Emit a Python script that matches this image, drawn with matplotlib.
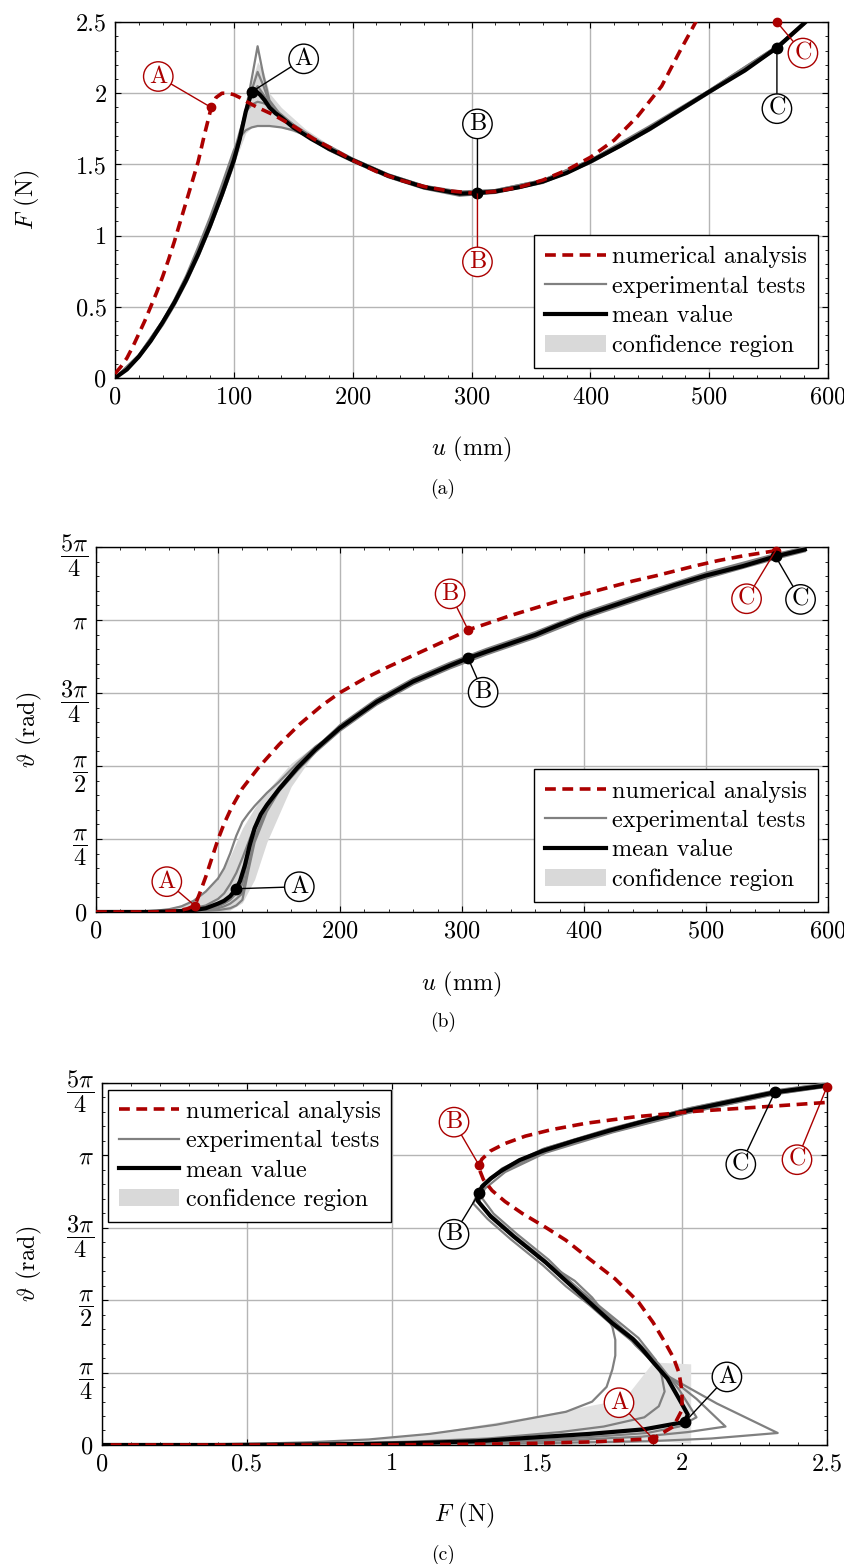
import numpy as np
import matplotlib.pyplot as plt
from matplotlib.ticker import MultipleLocator
from matplotlib.lines import Line2D
from matplotlib.patches import Patch

plt.rcParams['font.family'] = 'serif'
plt.rcParams['font.serif'] = ['cmr10']
plt.rcParams['mathtext.fontset'] = 'cm'
plt.rcParams['axes.formatter.use_mathtext'] = True
plt.rcParams['font.size'] = 17.5

RED = '#ab0000'
GRAY = '#808080'
FILL = '#d9d9d9'
FS = 17.5

# numerical analysis (parameter u in mm)
u_num = [0, 5, 10, 15, 20, 25, 30, 35, 40, 45, 50, 55, 60, 65, 70, 75, 81, 85, 90, 95, 100, 105, 111, 120, 133,
         150, 167, 185, 200, 220, 240, 260, 280, 300, 305, 320, 340, 360, 380, 400, 420, 440, 460, 475, 490,
         510, 530, 557]
F_num = [0.03, 0.08, 0.14, 0.22, 0.31, 0.40, 0.5, 0.6, 0.71, 0.83, 0.96, 1.1, 1.24, 1.38, 1.52, 1.7, 1.9, 1.97,
         2.0, 2.0, 1.99, 1.97, 1.94, 1.9, 1.85, 1.77, 1.68, 1.6, 1.53, 1.45, 1.39, 1.345, 1.315, 1.30, 1.30, 1.31,
         1.34, 1.39, 1.46, 1.55, 1.67, 1.84, 2.05, 2.29, 2.52, 2.9, 3.3, 3.9]
th_num = [0, 0, 0, 0, 0, 0, 0, 0, 0, 0, 0.002, 0.004, 0.007, 0.012, 0.02, 0.035, 0.068, 0.2, 0.38, 0.58, 0.78,
          0.95, 1.12, 1.33, 1.55, 1.8, 2.02, 2.22, 2.36, 2.51, 2.64, 2.76, 2.88, 3.0, 3.035, 3.1, 3.19, 3.27,
          3.35, 3.42, 3.49, 3.56, 3.62, 3.67, 3.72, 3.78, 3.83, 3.886]
keys_num = {'A': 81, 'B': 305, 'C': 557}

# mean value
u_mean = [0, 10, 20, 30, 40, 50, 60, 70, 80, 90, 100, 105, 110, 115, 118, 122, 126, 130, 135, 140, 150, 165,
          180, 200, 230, 260, 290, 305, 320, 340, 360, 380, 400, 425, 450, 475, 500, 530, 557, 581]
F_mean = [0, 0.06, 0.15, 0.26, 0.39, 0.53, 0.69, 0.87, 1.07, 1.29, 1.53, 1.68, 1.87, 2.01, 2.02, 1.99, 1.95,
          1.9, 1.86, 1.83, 1.76, 1.68, 1.61, 1.53, 1.42, 1.34, 1.295, 1.30, 1.31, 1.34, 1.38, 1.44, 1.52, 1.63,
          1.75, 1.88, 2.01, 2.16, 2.32, 2.5]
th_mean = [0, 0, 0, 0, 0, 0.002, 0.005, 0.01, 0.02, 0.04, 0.09, 0.12, 0.17, 0.25, 0.33, 0.5, 0.72, 0.9, 1.05,
           1.15, 1.32, 1.55, 1.75, 1.98, 2.26, 2.48, 2.65, 2.73, 2.8, 2.89, 2.98, 3.09, 3.19, 3.3, 3.41, 3.52,
           3.62, 3.72, 3.825, 3.9]
keys_mean = {'A': 115, 'B': 305, 'C': 557}

# experimental tests
u_exp = [0, 20, 40, 50, 60, 70, 80, 90, 100, 105, 110, 115, 120, 125, 130, 140, 150, 165, 180, 200,
         230, 260, 290, 320, 360, 400, 450, 500, 557, 581]
F_exp1 = [0, 0.15, 0.39, 0.53, 0.69, 0.87, 1.07, 1.29, 1.52, 1.68, 1.88, 2.1, 2.33, 2.12, 1.95, 1.84, 1.78, 1.7,
          1.62, 1.54, 1.43, 1.35, 1.31, 1.32, 1.39, 1.53, 1.77, 2.02, 2.33, 2.5]
th_exp1 = [0, 0, 0, 0, 0, 0.002, 0.005, 0.01, 0.02, 0.03, 0.04, 0.07, 0.13, 0.45, 0.75, 1.08, 1.3, 1.54, 1.76,
           2.01, 2.29, 2.51, 2.68, 2.83, 3.01, 3.22, 3.44, 3.65, 3.85, 3.92]
F_exp2 = [0, 0.14, 0.37, 0.51, 0.67, 0.85, 1.05, 1.27, 1.5, 1.66, 1.86, 2.02, 2.15, 2.05, 1.93, 1.83, 1.76,
          1.68, 1.6, 1.52, 1.41, 1.33, 1.28, 1.3, 1.37, 1.51, 1.74, 2.0, 2.31, 2.49]
th_exp2 = [0, 0, 0, 0, 0.002, 0.005, 0.01, 0.02, 0.04, 0.06, 0.09, 0.14, 0.2, 0.5, 0.8, 1.12, 1.3, 1.52, 1.72,
           1.95, 2.23, 2.45, 2.62, 2.77, 2.95, 3.16, 3.38, 3.59, 3.8, 3.88]
F_exp3 = [0, 0.15, 0.38, 0.52, 0.69, 0.88, 1.08, 1.3, 1.54, 1.7, 1.88, 1.99, 2.05, 1.99, 1.92, 1.84, 1.77, 1.69,
          1.61, 1.53, 1.42, 1.34, 1.29, 1.31, 1.38, 1.52, 1.75, 2.01, 2.32, 2.5]
th_exp3 = [0, 0, 0, 0, 0.003, 0.007, 0.015, 0.03, 0.06, 0.09, 0.13, 0.2, 0.3, 0.6, 0.88, 1.14, 1.33, 1.56, 1.76,
           1.99, 2.27, 2.49, 2.66, 2.81, 2.99, 3.2, 3.42, 3.63, 3.835, 3.91]
F_exp4 = [0, 0.16, 0.4, 0.54, 0.71, 0.9, 1.1, 1.33, 1.58, 1.73, 1.87, 1.92, 1.94, 1.93, 1.91, 1.85, 1.78, 1.69,
          1.61, 1.53, 1.42, 1.34, 1.29, 1.31, 1.38, 1.52, 1.75, 2.01, 2.32, 2.5]
th_exp4 = [0, 0, 0.002, 0.005, 0.01, 0.02, 0.04, 0.07, 0.14, 0.2, 0.3, 0.42, 0.58, 0.75, 0.92, 1.16, 1.34,
           1.57, 1.77, 2.0, 2.28, 2.5, 2.67, 2.82, 3.0, 3.21, 3.43, 3.64, 3.84, 3.92]
F_exp5 = [0, 0.16, 0.4, 0.55, 0.72, 0.92, 1.13, 1.36, 1.6, 1.69, 1.74, 1.76, 1.77, 1.77, 1.77, 1.76, 1.74, 1.69,
          1.63, 1.54, 1.43, 1.35, 1.30, 1.32, 1.39, 1.53, 1.76, 2.02, 2.33, 2.5]
th_exp5 = [0, 0.002, 0.008, 0.015, 0.03, 0.06, 0.12, 0.22, 0.36, 0.47, 0.63, 0.82, 0.97, 1.06, 1.14, 1.28, 1.4,
           1.6, 1.78, 1.96, 2.24, 2.46, 2.63, 2.78, 2.96, 3.17, 3.39, 3.6, 3.81, 3.89]

F_exps = [F_exp1, F_exp2, F_exp3, F_exp4, F_exp5]
th_exps = [th_exp1, th_exp2, th_exp3, th_exp4, th_exp5]

# confidence regions
conf_u_a = [90, 100, 110, 115, 120, 125, 130, 140, 160, 180, 200, 230]
conf_lo_a = [1.27, 1.5, 1.72, 1.76, 1.78, 1.78, 1.78, 1.76, 1.7, 1.6, 1.52, 1.41]
conf_hi_a = [1.32, 1.58, 1.9, 2.08, 2.22, 2.15, 2.0, 1.9, 1.75, 1.64, 1.55, 1.43]

conf_u_b = [40, 60, 80, 100, 110, 120, 130, 140, 160, 180, 200, 230]
conf_lo_b = [0, 0, 0, 0, 0.02, 0.1, 0.35, 0.75, 1.35, 1.73, 1.97, 2.25]
conf_hi_b = [0.01, 0.04, 0.12, 0.35, 0.6, 0.9, 1.12, 1.3, 1.6, 1.8, 2.0, 2.28]

conf_F_c = [0.5, 1.0, 1.17, 1.52, 1.8, 1.9, 2.03]
conf_lo_c = [0, 0, 0, 0, 0.02, 0.05, 0.02]
conf_hi_c = [0.01, 0.08, 0.15, 0.33, 0.5, 0.9, 0.88]

pi_ticks = [0, np.pi / 4, np.pi / 2, 3 * np.pi / 4, np.pi, 5 * np.pi / 4]
pi_labels = ['$0$', r'$\dfrac{\pi}{4}$', r'$\dfrac{\pi}{2}$', r'$\dfrac{3\pi}{4}$', r'$\pi$', r'$\dfrac{5\pi}{4}$']

# label offsets in pixels (circle centre relative to the point)
offs_a = {('num', 'A'): (-53, 31), ('mean', 'A'): (52, 33), ('mean', 'B'): (0, 69),
          ('num', 'B'): (0, -69), ('mean', 'C'): (0, -61), ('num', 'C'): (26, -31)}
offs_b = {('num', 'A'): (-28, 24), ('mean', 'A'): (63, 2), ('num', 'B'): (-18, 36),
          ('mean', 'B'): (15, -34), ('num', 'C'): (-29, -48), ('mean', 'C'): (25, -43)}
offs_c = {('mean', 'A'): (42, 45), ('num', 'A'): (-34, 36), ('num', 'B'): (-25, 43),
          ('mean', 'B'): (-25, -41), ('mean', 'C'): (-34, -72), ('num', 'C'): (-30, -73)}


def style_axes(ax):
    ax.grid(True, which='major', color='#b5b5b5', lw=1.0)
    ax.set_axisbelow(True)
    ax.tick_params(which='both', direction='in', top=True, right=True, labelsize=FS)
    ax.tick_params(which='major', length=4, pad=6)
    ax.tick_params(which='minor', length=2.5)
    for s in ax.spines.values():
        s.set_linewidth(1.0)


def add_legend(ax, **kw):
    handles = [Line2D([], [], color=RED, lw=2.6, ls=(0, (3, 1.8))),
               Line2D([], [], color=GRAY, lw=1.6),
               Line2D([], [], color='black', lw=3.0),
               Patch(facecolor=FILL, edgecolor='none')]
    labels = ['numerical analysis', 'experimental tests', 'mean value', 'confidence region']
    leg = ax.legend(handles, labels, fancybox=False, edgecolor='black', framealpha=1,
                    handlelength=2.5, handletextpad=0.25, labelspacing=0.3, borderpad=0.45,
                    borderaxespad=0, fontsize=FS, **kw)
    leg.get_frame().set_linewidth(1.0)


def draw_panel(ax, xs_num, ys_num, xs_mean, ys_mean, xs_exps, ys_exps, offs):
    for xe, ye in zip(xs_exps, ys_exps):
        ax.plot(xe, ye, color=GRAY, lw=1.6, zorder=3)
    ax.plot(xs_mean, ys_mean, color='black', lw=3.0, zorder=4)
    ax.plot(xs_num, ys_num, color=RED, lw=2.6, ls=(0, (3, 1.8)), zorder=5)
    xlim, ylim = ax.get_xlim(), ax.get_ylim()
    for kind, xs, ys, u, keys, col, ms in [('num', xs_num, ys_num, u_num, keys_num, RED, 6),
                                           ('mean', xs_mean, ys_mean, u_mean, keys_mean, 'black', 7.5)]:
        for letter, uk in keys.items():
            i = u.index(uk)
            px = min(max(xs[i], xlim[0]), xlim[1])
            py = min(max(ys[i], ylim[0]), ylim[1])
            ax.plot(px, py, 'o', color=col, ms=ms, zorder=6, clip_on=False)
            ax.annotate(letter, xy=(px, py), xytext=offs[(kind, letter)], textcoords='offset pixels',
                        ha='center', va='center', color=col, fontsize=FS, zorder=7,
                        bbox=dict(boxstyle='circle,pad=0.15', fc='white', ec=col, lw=1.0),
                        arrowprops=dict(arrowstyle='-', color=col, lw=1.0, shrinkA=0, shrinkB=0))


fig = plt.figure(figsize=(8.45, 15.64), dpi=100)

# (a) F vs u
ax1 = fig.add_axes([0.1361, 0.7583, 0.8438, 0.2276])
ax1.set_xlim(0, 600)
ax1.set_ylim(0, 2.5)
ax1.xaxis.set_major_locator(MultipleLocator(100))
ax1.xaxis.set_minor_locator(MultipleLocator(20))
ax1.set_yticks([0, 0.5, 1, 1.5, 2, 2.5])
ax1.set_yticklabels(['0', '0.5', '1', '1.5', '2', '2.5'])
ax1.yaxis.set_minor_locator(MultipleLocator(0.1))
style_axes(ax1)
ax1.fill_between(conf_u_a, conf_lo_a, conf_hi_a, color=FILL, lw=0, zorder=2)
draw_panel(ax1, u_num, F_num, u_mean, F_mean, [u_exp] * 5, F_exps, offs_a)
ax1.set_xlabel('$u$ (mm)')
ax1.set_ylabel('$F$ (N)')
ax1.xaxis.set_label_coords(0.5, -0.16)
ax1.yaxis.set_label_coords(-0.103, 0.5)
add_legend(ax1, loc='lower right', bbox_to_anchor=(0.986, 0.028))

# (b) theta vs u
ax2 = fig.add_axes([0.1136, 0.4169, 0.8663, 0.2334])
ax2.set_xlim(0, 600)
ax2.set_ylim(0, 5 * np.pi / 4)
ax2.xaxis.set_major_locator(MultipleLocator(100))
ax2.xaxis.set_minor_locator(MultipleLocator(20))
ax2.set_yticks(pi_ticks)
ax2.set_yticklabels(pi_labels)
ax2.yaxis.set_minor_locator(MultipleLocator(np.pi / 20))
style_axes(ax2)
ax2.fill_between(conf_u_b, conf_lo_b, conf_hi_b, color=FILL, lw=0, zorder=2)
draw_panel(ax2, u_num, th_num, u_mean, th_mean, [u_exp] * 5, th_exps, offs_b)
ax2.set_xlabel('$u$ (mm)')
ax2.set_ylabel(r'$\vartheta$ (rad)')
ax2.xaxis.set_label_coords(0.5, -0.158)
ax2.yaxis.set_label_coords(-0.071, 0.5)
add_legend(ax2, loc='lower right', bbox_to_anchor=(0.986, 0.027))

# (c) theta vs F
ax3 = fig.add_axes([0.1207, 0.0761, 0.858, 0.2315])
ax3.set_xlim(0, 2.5)
ax3.set_ylim(0, 5 * np.pi / 4)
ax3.set_xticks([0, 0.5, 1, 1.5, 2, 2.5])
ax3.set_xticklabels(['0', '0.5', '1', '1.5', '2', '2.5'])
ax3.xaxis.set_minor_locator(MultipleLocator(0.1))
ax3.set_yticks(pi_ticks)
ax3.set_yticklabels(pi_labels)
ax3.yaxis.set_minor_locator(MultipleLocator(np.pi / 20))
style_axes(ax3)
ax3.fill_between(conf_F_c, conf_lo_c, conf_hi_c, color='#e2e2e2', lw=0, zorder=2)
draw_panel(ax3, F_num, th_num, F_mean, th_mean, F_exps, th_exps, offs_c)
ax3.set_xlabel('$F$ (N)')
ax3.set_ylabel(r'$\vartheta$ (rad)')
ax3.xaxis.set_label_coords(0.5, -0.155)
ax3.yaxis.set_label_coords(-0.080, 0.5)
add_legend(ax3, loc='upper left', bbox_to_anchor=(0.008, 0.981))

fig.text(0.524, 0.6873, '(a)', ha='center', va='center', fontsize=14)
fig.text(0.524, 0.3465, '(b)', ha='center', va='center', fontsize=14)
fig.text(0.524, 0.0058, '(c)', ha='center', va='center', fontsize=14)

fig.savefig('out.png', dpi=100)
